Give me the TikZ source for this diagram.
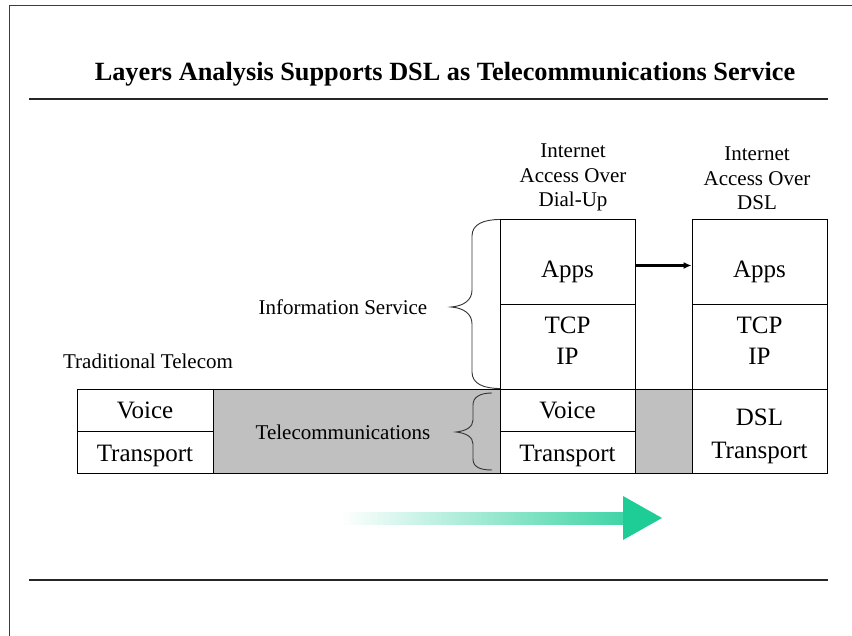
\documentclass[tikz,border=0pt]{standalone}
\usepackage{fontspec}
\setmainfont{Liberation Serif}
\usetikzlibrary{arrows.meta}
\definecolor{grayfill}{RGB}{192,192,192}
\definecolor{tgreen}{RGB}{30,204,150}
\definecolor{framegray}{RGB}{60,60,60}
\begin{document}
\begin{tikzpicture}[x=1pt,y=-1pt,
  box/.style={draw, line width=0.9pt, minimum width=135pt, inner sep=0pt},
  big/.style={font=\fontsize{25}{30}\selectfont, inner sep=0pt, anchor=base},
  lab/.style={font=\fontsize{21}{25}\selectfont, inner sep=0pt, anchor=base},
  rulerline/.style={line width=2pt, black!85},
  bracepath/.style={line width=0.9pt, black!80},
  grayband/.style={draw, line width=0.9pt, fill=grayfill, inner sep=0pt, minimum height=84pt}]
\useasboundingbox (0,0) rectangle (852,636);
% frame
\draw[line width=1.2pt, framegray] (9.5,636) -- (9.5,5.5) -- (852,5.5);
% title
\node[font=\fontsize{26.3}{30}\selectfont\bfseries, inner sep=0pt, anchor=base] (title) at (445,81) {Layers Analysis Supports DSL as Telecommunications Service};
\draw[rulerline] (29,99) -- (828,99);
\draw[rulerline] (29,580) -- (828,580);
% gray bands
\node[grayband, minimum width=287pt] (gleft) at (356.5,431) {};
\node[grayband, minimum width=57pt] (gright) at (663.5,431) {};
% traditional telecom
\node[box, minimum width=136pt, minimum height=42pt] (voice0) at (145,410) {};
\node[box, minimum width=136pt, minimum height=42pt] (trans0) at (145,452) {};
\node[big] (tvoice0) at (145,419) {Voice};
\node[big] (ttrans0) at (145,461) {Transport};
\node[lab] (ttrad) at (148,369) {Traditional Telecom};
% dial-up column
\node[box, minimum height=85pt] (apps1) at (567.5,261.5) {};
\node[box, minimum height=85pt] (tcp1) at (567.5,346.5) {};
\node[box, minimum height=42pt] (voice1) at (567.5,410) {};
\node[box, minimum height=42pt] (trans1) at (567.5,452) {};
\node[big] (tapps1) at (567.5,278) {Apps};
\node[big] (ttcp1) at (567.5,333.5) {TCP};
\node[big] (tip1) at (567.5,364.5) {IP};
\node[big] (tvoice1) at (567.5,419) {Voice};
\node[big] (ttrans1) at (567.5,461) {Transport};
\node[lab] (h1a) at (573,158) {Internet};
\node[lab] (h1b) at (573,183) {Access Over};
\node[lab] (h1c) at (573,207) {Dial-Up};
% DSL column
\node[box, minimum height=85pt] (apps2) at (759.5,261.5) {};
\node[box, minimum height=85pt] (tcp2) at (759.5,346.5) {};
\node[box, minimum height=84pt] (dsl2) at (759.5,431) {};
\node[big] (tapps2) at (759.5,278) {Apps};
\node[big] (ttcp2) at (759.5,333.5) {TCP};
\node[big] (tip2) at (759.5,364.5) {IP};
\node[big] (tdsl2) at (759.5,426) {DSL};
\node[big] (ttrans2) at (759.5,458) {Transport};
\node[lab] (h2a) at (757,160.5) {Internet};
\node[lab] (h2b) at (757,185.5) {Access Over};
\node[lab] (h2c) at (757,210) {DSL};
% arrow between apps
\draw[line width=2.6pt, -{Latex[length=8pt,width=7pt]}] ([yshift=-4pt]apps1.east) -- ([yshift=-4pt]apps2.west);
% braces and labels
\draw[bracepath] (500,219.5) .. controls (484,219.5) and (472,224) .. (472,236) -- (472,290)
  .. controls (472,300) and (464,306) .. (451,307)
  .. controls (464,308) and (472,314) .. (472,324) -- (472,372)
  .. controls (472,384) and (484,388.5) .. (500,388.5);
\node[lab] (tinfo) at (343,315) {Information Service};
\draw[bracepath] (492,393) .. controls (480,393) and (473,397) .. (473,405) -- (473,420)
  .. controls (473,427) and (466,431) .. (456,432)
  .. controls (466,433) and (473,437) .. (473,444) -- (473,459)
  .. controls (473,467) and (480,470) .. (492,470);
\node[lab] (ttele) at (343,439) {Telecommunications};
% gradient arrow
\shade[left color=white, right color=tgreen!85] (340,512) rectangle (624,524);
\fill[tgreen] (623,496) -- (662,518) -- (623,540) -- cycle;
\end{tikzpicture}
\end{document}
